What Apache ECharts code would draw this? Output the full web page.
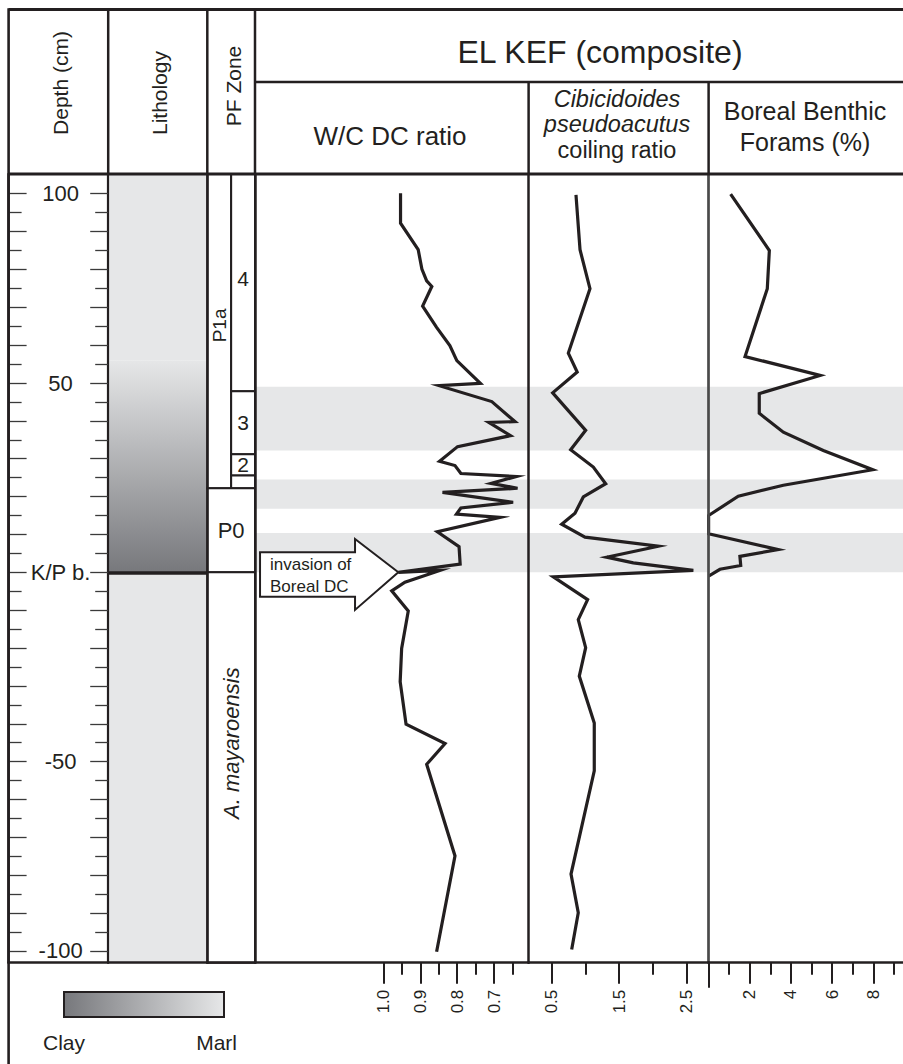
<!DOCTYPE html>
<html>
<head>
<meta charset="utf-8">
<script src="https://cdn.jsdelivr.net/npm/echarts@6/dist/echarts.min.js"></script>
<style>html,body{margin:0;padding:0;background:#fff}#c{width:903px;height:1064px}</style>
</head>
<body>
<div id="c"></div>
<script>
// ---------------- DATA ----------------
// W/C DC ratio (depth in cm, value)
const wcDepth = [100.1, 92.2, 85.2, 80.1, 77.0, 75.5, 70.3, 64.7, 59.9, 55.9, 49.9, 49.3, 45.1, 39.8, 39.6, 36.1, 33.2, 29.3, 28.2, 26.1, 25.3, 23.5, 22.2, 21.1, 18.5, 17.0, 15.4, 14.5, 10.7, 6.8, 2.2, 0.0, 0.5, -2.6, -4.9, -10.2, -20.1, -28.9, -40.1, -45.2, -50.7, -74.9, -100.2];
const wcRatio = [0.954, 0.954, 0.906, 0.896, 0.883, 0.869, 0.894, 0.856, 0.820, 0.801, 0.737, 0.849, 0.706, 0.643, 0.714, 0.655, 0.799, 0.848, 0.806, 0.790, 0.640, 0.708, 0.636, 0.840, 0.648, 0.790, 0.802, 0.684, 0.854, 0.795, 0.792, 0.960, 0.847, 0.942, 0.978, 0.933, 0.951, 0.955, 0.939, 0.833, 0.883, 0.806, 0.856];
// Cibicidoides pseudoacutus coiling ratio
const cpDepth = [99.7, 85.2, 74.9, 57.9, 52.9, 47.4, 37.5, 32.4, 27.8, 23.4, 19.9, 15.6, 12.7, 9.3, 6.9, 4.0, 2.5, 0.5, -1.2, -7.2, -12.5, -19.9, -27.4, -39.8, -52.4, -79.7, -89.9, -99.6];
const cpRatio = [0.857, 0.917, 1.065, 0.743, 0.875, 0.510, 1.001, 0.778, 1.115, 1.299, 0.966, 0.842, 0.644, 0.991, 2.082, 1.314, 1.710, 2.603, 0.520, 1.030, 0.891, 1.001, 0.906, 1.129, 1.129, 0.783, 0.891, 0.793];
// Boreal benthic forams (%)
const bbDepth = [99.9, 85.0, 74.9, 57.0, 52.0, 47.2, 42.0, 37.0, 32.2, 27.1, 23.0, 20.1, 15.0, 10.2, 6.0, 4.2, 1.8, 0.8, -1.0];
const bbPct = [1.07, 2.95, 2.85, 1.77, 5.42, 2.46, 2.46, 3.63, 5.57, 7.97, 3.63, 1.44, 0, 0, 3.38, 1.52, 1.56, 0.55, 0];
// shaded depth bands [top, bottom]
const grayBands = [[49.0, 32.2], [24.5, 16.8], [10.4, 0]];
// lithology
const lithoTop = [105.2, 56, 0];
const lithoBottom = [56, 0, -103.1];
const lithoTopType = ['marl', 'marl', 'marl'];
const lithoBottomType = ['marl', 'clay', 'marl'];
// planktic foraminiferal zones
const pfName = ['P1a', '4', '3', '2', '', 'P0', 'A. mayaroensis'];
const pfTop = [105.2, 105.2, 47.8, 31.2, 25.6, 22.2, 0];
const pfBottom = [22.2, 47.8, 31.2, 25.6, 22.2, 0, -103.1];
const pfColumn = ['left', 'right', 'right', 'right', 'right', 'full', 'full'];
const pfLabelDepth = [65.2, 77.7, 39.7, 28.6, null, 11.1, -45.1];
// ticks and labels
const depthTicksMajor = [100, 90, 80, 70, 60, 50, 40, 30, 20, 10, 0, -10, -20, -30, -40, -50, -60, -70, -80, -90, -100];
const depthTicksMinor = [95, 85, 75, 65, 55, 45, 35, 25, 15, 5, -5, -15, -25, -35, -45, -55, -65, -75, -85, -95];
const depthLabels = [100, 50, 0, -50, -100];
const wcTicksMajor = [1.0, 0.9, 0.8, 0.7];
const wcTicksMinor = [0.95, 0.85, 0.75, 0.65];
const cpTicksMajor = [0.5, 1.5, 2.5];
const cpTicksMinor = [1.0, 2.0];
const bbTicksMajor = [2, 4, 6, 8];
const bbTicksMinor = [1, 3, 5, 7, 9];
const arrowTip = [0.96, 0.0]; // W/C ratio, depth

// ---------------- STYLE / LAYOUT ----------------
const FONT = '"Liberation Sans", Arial, Helvetica, sans-serif';
const INK = '#231f20';
const LITHO_COLOR = { marl: '#e6e7e8', clay: '#77787c' };
const T = 174, B = 962.7, H = B - T;
const D_MIN = -103.1, D_MAX = 105.2;
const cols = [[8.6, 108.2], [108.2, 207.3], [207.3, 255], [255, 528.6], [528.6, 708.6], [708.6, 903]];

const chart = echarts.init(document.getElementById('c'), null, { renderer: 'svg', width: 903, height: 1064 });

const grid = cols.map(([l, r]) => ({ left: l, top: T, width: r - l, height: H, containLabel: false, outerBoundsMode: 'none' }));

function lineAx(gi, min, max, inverse) {
  return { type: 'value', gridIndex: gi, min, max, inverse: !!inverse, position: 'bottom', z: 6,
    axisLine: { show: true, onZero: false, lineStyle: { color: INK, width: 2.5 } },
    axisTick: { show: false }, axisLabel: { show: false }, splitLine: { show: false } };
}
function tickAx(gi, min, max, inverse, ticks, len, labels, fmt) {
  return { type: 'value', gridIndex: gi, min, max, inverse: !!inverse, position: 'bottom', z: 6,
    axisLine: { show: false, onZero: false },
    axisTick: { show: true, inside: false, customValues: ticks, length: len, lineStyle: { color: INK, width: 2 } },
    axisLabel: labels ? { show: true, customValues: labels, rotate: 90, margin: 27, fontSize: 17, fontFamily: FONT, color: INK, formatter: fmt } : { show: false },
    splitLine: { show: false } };
}
function yAx(gi, pos, lineColor, lineWidth, tick, label) {
  return { type: 'value', gridIndex: gi, min: D_MIN, max: D_MAX, position: pos, z: 6,
    axisLine: lineColor ? { show: true, onZero: false, lineStyle: { color: lineColor, width: lineWidth } } : { show: false, onZero: false },
    axisTick: tick ? { show: true, inside: true, customValues: tick.values, length: tick.len, lineStyle: { color: '#3a3a3a', width: 1.3 } } : { show: false },
    axisLabel: label || { show: false },
    splitLine: { show: false } };
}

const WC = [0.606, 1.3495], CP = [0.152, 2.83], BB = [0, 9.44];

const xAxis = [
  lineAx(0, 0, 1), lineAx(1, 0, 1), lineAx(2, 0, 2),
  lineAx(3, WC[0], WC[1], true),
  tickAx(3, WC[0], WC[1], true, wcTicksMajor, 21, wcTicksMajor, v => v.toFixed(1)),
  tickAx(3, WC[0], WC[1], true, wcTicksMinor, 12),
  lineAx(4, CP[0], CP[1]),
  tickAx(4, CP[0], CP[1], false, cpTicksMajor, 21, cpTicksMajor, v => v.toFixed(1)),
  tickAx(4, CP[0], CP[1], false, cpTicksMinor, 12),
  lineAx(5, BB[0], BB[1]),
  tickAx(5, BB[0], BB[1], false, bbTicksMajor, 21, bbTicksMajor, v => String(v)),
  tickAx(5, BB[0], BB[1], false, bbTicksMinor, 12),
  tickAx(5, BB[0], BB[1], false, [0], 25)
];

const yAxis = [
  yAx(0, 'left', INK, 2.5, { values: depthTicksMajor, len: 18 },
    { show: true, inside: true, customValues: depthLabels, margin: 52, align: 'center', verticalAlign: 'middle',
      fontSize: 22, fontFamily: FONT, color: INK, formatter: v => (v === 0 ? 'K/P b.' : String(v)) }),
  yAx(0, 'left', null, 0, { values: depthTicksMinor, len: 13 }),
  yAx(0, 'right', INK, 2.2, { values: depthTicksMajor, len: 18 }),
  yAx(0, 'right', null, 0, { values: depthTicksMinor, len: 13 }),
  yAx(1, 'left', null, 0),
  yAx(2, 'left', INK, 2.5),
  yAx(3, 'left', INK, 2.5),
  yAx(4, 'left', INK, 2.5),
  yAx(5, 'left', '#4a4a4a', 2.7)
];

const bandArea = { silent: true, itemStyle: { color: '#e6e7e8' }, data: grayBands.map(b => [{ yAxis: b[0] }, { yAxis: b[1] }]) };
const lineStyle = { color: INK, width: 3.2, join: 'miter', miterLimit: 8 };

const pfCols = { left: [0, 1], right: [1, 2], full: [0, 2] };
const pfRotated = { 'P1a': true, 'A. mayaroensis': true };
const pfItalic = { 'A. mayaroensis': true };
const pfSize = { 'P1a': 19, '4': 21, '3': 21, '2': 21, 'P0': 22, 'A. mayaroensis': 22 };

const series = [
  { type: 'custom', xAxisIndex: 1, yAxisIndex: 4, silent: true, z: 1,
    data: lithoTop.map((t, i) => [0.5, (t + lithoBottom[i]) / 2, i]), encode: { x: 0, y: 1 },
    renderItem: (params, api) => {
      const i = api.value(2);
      const p0 = api.coord([0, lithoTop[i]]), p1 = api.coord([1, lithoBottom[i]]);
      return { type: 'rect', shape: { x: p0[0], y: p0[1], width: p1[0] - p0[0], height: p1[1] - p0[1] },
        style: { fill: new echarts.graphic.LinearGradient(0, 0, 0, 1, [
          { offset: 0, color: LITHO_COLOR[lithoTopType[i]] }, { offset: 1, color: LITHO_COLOR[lithoBottomType[i]] }]) } };
    },
    markLine: { silent: true, symbol: 'none', label: { show: false }, lineStyle: { color: INK, width: 3.5, type: 'solid' }, data: [{ yAxis: 0 }] }
  },
  { type: 'custom', xAxisIndex: 2, yAxisIndex: 5, silent: true, z: 1,
    data: pfName.map((n, i) => [1, (pfTop[i] + pfBottom[i]) / 2, i]), encode: { x: 0, y: 1 },
    renderItem: (params, api) => {
      const i = api.value(2);
      const c = pfCols[pfColumn[i]];
      const p0 = api.coord([c[0], pfTop[i]]), p1 = api.coord([c[1], pfBottom[i]]);
      const children = [{ type: 'rect', shape: { x: p0[0], y: p0[1], width: p1[0] - p0[0], height: p1[1] - p0[1] },
        style: { fill: '#fff', stroke: INK, lineWidth: 2 } }];
      const name = pfName[i];
      if (name) {
        const ly = api.coord([0, pfLabelDepth[i]])[1];
        children.push({ type: 'text', x: (p0[0] + p1[0]) / 2, y: ly, rotation: pfRotated[name] ? Math.PI / 2 : 0,
          style: { text: name, x: 0, y: 0, align: 'center', verticalAlign: 'middle', textAlign: 'center', textVerticalAlign: 'middle',
            fontSize: pfSize[name], fontFamily: FONT, fontStyle: pfItalic[name] ? 'italic' : 'normal', fill: INK } });
      }
      return { type: 'group', children };
    }
  },
  { type: 'line', name: 'W/C DC ratio', xAxisIndex: 3, yAxisIndex: 6, z: 3, silent: true, symbol: 'none', showSymbol: false,
    data: wcDepth.map((d, i) => [wcRatio[i], d]), lineStyle, markArea: bandArea },
  { type: 'line', name: 'Cibicidoides pseudoacutus coiling ratio', xAxisIndex: 6, yAxisIndex: 7, z: 3, silent: true, symbol: 'none', showSymbol: false,
    data: cpDepth.map((d, i) => [cpRatio[i], d]), lineStyle, markArea: bandArea },
  { type: 'line', name: 'Boreal Benthic Forams (%)', xAxisIndex: 9, yAxisIndex: 8, z: 3, silent: true, symbol: 'none', showSymbol: false,
    data: bbDepth.map((d, i) => [bbPct[i], d]), lineStyle, markArea: bandArea }
];

chart.setOption({ animation: false, backgroundColor: '#fff', grid, xAxis, yAxis, series });

// ---------------- table frame, headers, legend, annotation ----------------
function ln(x1, y1, x2, y2, w) {
  return { type: 'line', z: 100, silent: true, shape: { x1, y1, x2, y2 }, style: { stroke: INK, lineWidth: w || 2.5 } };
}
function tx(text, x, y, size, opts) {
  opts = opts || {};
  return { type: 'text', z: 101, silent: true, x, y, rotation: opts.rot || 0,
    style: { text, x: 0, y: 0, fill: INK, fontSize: size, fontFamily: FONT, fontStyle: opts.italic ? 'italic' : 'normal',
      align: opts.align || 'center', textAlign: opts.align || 'center', verticalAlign: 'middle', textVerticalAlign: 'middle' } };
}
const elements = [
  ln(8.6, 9.5, 903, 9.5, 2.8), ln(8.6, 8.2, 8.6, 1064, 2.6), ln(8.6, 174, 903, 174, 2.8),
  ln(108.2, 9.5, 108.2, 174), ln(207.3, 9.5, 207.3, 174), ln(255, 9.5, 255, 174),
  ln(255, 82, 903, 82), ln(528.6, 82, 528.6, 174), ln(708.6, 82, 708.6, 174),
  tx('Depth (cm)', 60, 83, 21, { rot: Math.PI / 2 }),
  tx('Lithology', 159, 93, 21, { rot: Math.PI / 2 }),
  tx('PF Zone', 233, 86, 21, { rot: Math.PI / 2 }),
  tx('EL KEF (composite)', 600, 52, 32),
  tx('W/C DC ratio', 390, 136, 26),
  tx('Cibicidoides', 617, 99, 23.5, { italic: true }),
  tx('pseudoacutus', 617, 124, 23.5, { italic: true }),
  tx('coiling ratio', 617, 150, 23.5),
  tx('Boreal Benthic', 805, 111, 25),
  tx('Forams (%)', 805, 142, 25),
  { type: 'rect', z: 100, silent: true, shape: { x: 64, y: 992, width: 160, height: 25 },
    style: { stroke: INK, lineWidth: 2, fill: new echarts.graphic.LinearGradient(0, 0, 1, 0, [
      { offset: 0, color: LITHO_COLOR.clay }, { offset: 1, color: LITHO_COLOR.marl }]) } },
  tx('Clay', 43, 1042, 21, { align: 'left' }),
  tx('Marl', 237, 1042, 21, { align: 'right' })
];

const tip = chart.convertToPixel({ xAxisIndex: 3, yAxisIndex: 6 }, arrowTip);
const ax = tip[0], ay = tip[1];
elements.push({ type: 'polygon', z: 102, silent: true,
  shape: { points: [[ax, ay], [ax - 43.3, ay - 33.4], [ax - 43.3, ay - 20], [ax - 138.3, ay - 20], [ax - 138.3, ay + 24.3], [ax - 43.3, ay + 24.3], [ax - 43.3, ay + 37.6]] },
  style: { fill: '#fff', stroke: INK, lineWidth: 2, lineJoin: 'miter' } });
elements.push(Object.assign(tx('invasion of', ax - 128.3, ay - 7.7, 17, { align: 'left' }), { z: 103 }));
elements.push(Object.assign(tx('Boreal DC', ax - 128.3, ay + 14.3, 17, { align: 'left' }), { z: 103 }));

chart.setOption({ graphic: { elements } });
</script>
</body>
</html>
